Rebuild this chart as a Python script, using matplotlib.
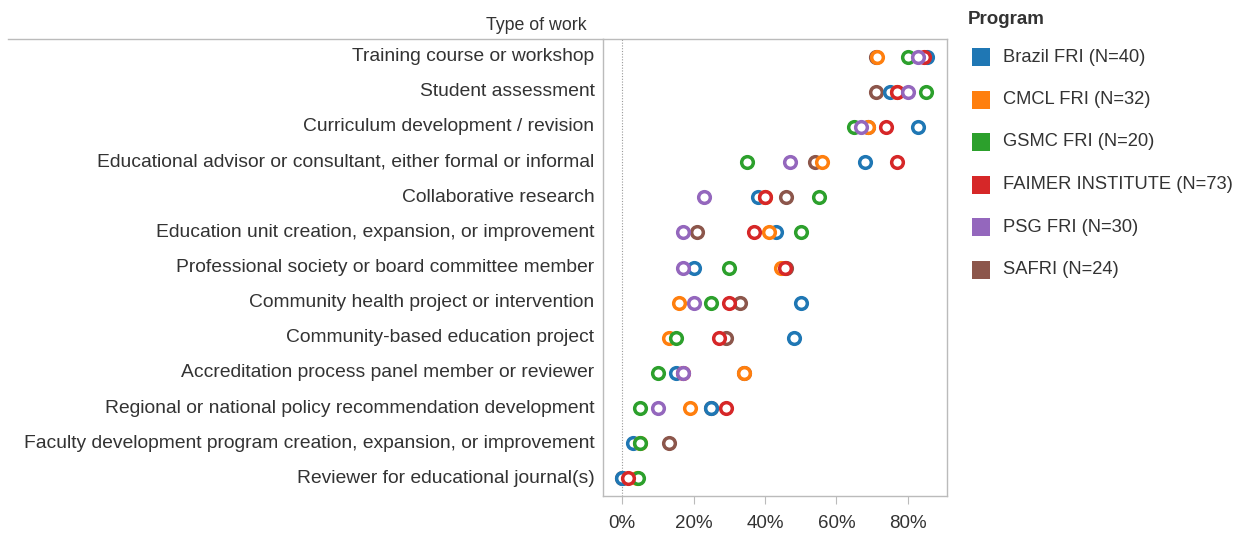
import matplotlib
matplotlib.use("Agg")
import matplotlib.pyplot as plt
from matplotlib.lines import Line2D
from matplotlib.patches import Rectangle

nan = float("nan")

categories = [
    "Training course or workshop",
    "Student assessment",
    "Curriculum development / revision",
    "Educational advisor or consultant, either formal or informal",
    "Collaborative research",
    "Education unit creation, expansion, or improvement",
    "Professional society or board committee member",
    "Community health project or intervention",
    "Community-based education project",
    "Accreditation process panel member or reviewer",
    "Regional or national policy recommendation development",
    "Faculty development program creation, expansion, or improvement",
    "Reviewer for educational journal(s)",
]

programs = ["Brazil FRI (N=40)", "CMCL FRI (N=32)", "GSMC FRI (N=20)",
            "FAIMER INSTITUTE (N=73)", "PSG FRI (N=30)", "SAFRI (N=24)"]
colors = ["#1f77b4", "#ff7f0e", "#2ca02c", "#d62728", "#9467bd", "#8c564b"]

brazil = [85.5, 75, 83, 68, 38, 43, 20, 50, 48, 15, 25, 3, 0]
cmcl   = [71.5, 77, 69, 56, 40, 41, 44.5, 16, 13, 34, 19, 5, 4]
gsmc   = [80, 85, 65, 35, 55, 50, 30, 25, 15, 10, 5, 5, 4.5]
faimer = [84.5, 77, 74, 77, 40, 37, 45.5, 30, 27, 17, 29, nan, 1.5]
psg    = [83, 80, 67, 47, 23, 17, 17, 20, nan, 17, 10, nan, nan]
safri  = [71, 71, 69, 54, 46, 21, 46, 33, 29, 34, 25, 13, 0]
series = [brazil, cmcl, gsmc, faimer, psg, safri]

xticks = [0, 20, 40, 60, 80]
xticklabels = ["0%", "20%", "40%", "60%", "80%"]

FONT = ["Liberation Sans Narrow", "Liberation Sans", "DejaVu Sans"]
plt.rcParams["font.family"] = FONT

W, H = 1243, 533
fig = plt.figure(figsize=(W / 100, H / 100), dpi=100)
L, R, T, B = 603, 947, 39, 496
ax = fig.add_axes([L / W, 1 - B / H, (R - L) / W, (B - T) / H])

n = len(categories)
ypos = list(range(n))
draw_order = [5, 0, 1, 2, 3, 4]
for k in draw_order:
    ax.plot(series[k], ypos, linestyle="none", marker="o", markersize=8.4,
            markerfacecolor="white", markeredgecolor=colors[k],
            markeredgewidth=2.5, zorder=3 + draw_order.index(k))

ax.set_ylim(n - 0.5, -0.5)
ax.set_xlim(-5.4, 91)
ax.set_yticks([])
ax.set_xticks(xticks)
ax.set_xticklabels(xticklabels, fontsize=13.5, color="#333333")
ax.tick_params(axis="x", length=6, color="#bbbbbb", pad=8)
ax.axvline(0, color="#999999", linestyle=(0, (1, 1.5)), linewidth=0.8, zorder=1)
for s in ax.spines.values():
    s.set_color("#bbbbbb")
    s.set_linewidth(1.0)

# row labels
for i, c in enumerate(categories):
    ax.text(-0.025, i, c, transform=ax.get_yaxis_transform(), ha="right",
            va="center", fontsize=13.9, color="#333333")

# header and header rule
fig.text(587 / W, 1 - 25 / H, "Type of work", ha="right", va="center",
         fontsize=12.8, color="#333333")
fig.add_artist(Line2D([8 / W, L / W], [1 - T / H, 1 - T / H],
                      transform=fig.transFigure, color="#bbbbbb", linewidth=1.0))

# legend
fig.text(968 / W, 1 - 20 / H, "Program", ha="left", va="center",
         fontsize=13.5, fontweight="bold", color="#333333")
for k, (p, col) in enumerate(zip(programs, colors)):
    yc = 57 + k * 42.5
    fig.add_artist(Rectangle((972 / W, 1 - (yc + 9) / H), 18 / W, 18 / H,
                             transform=fig.transFigure, facecolor=col,
                             edgecolor="none"))
    fig.text(1003 / W, 1 - yc / H, p, ha="left", va="center",
             fontsize=13.2, color="#333333")

fig.savefig("out.png", dpi=100)
